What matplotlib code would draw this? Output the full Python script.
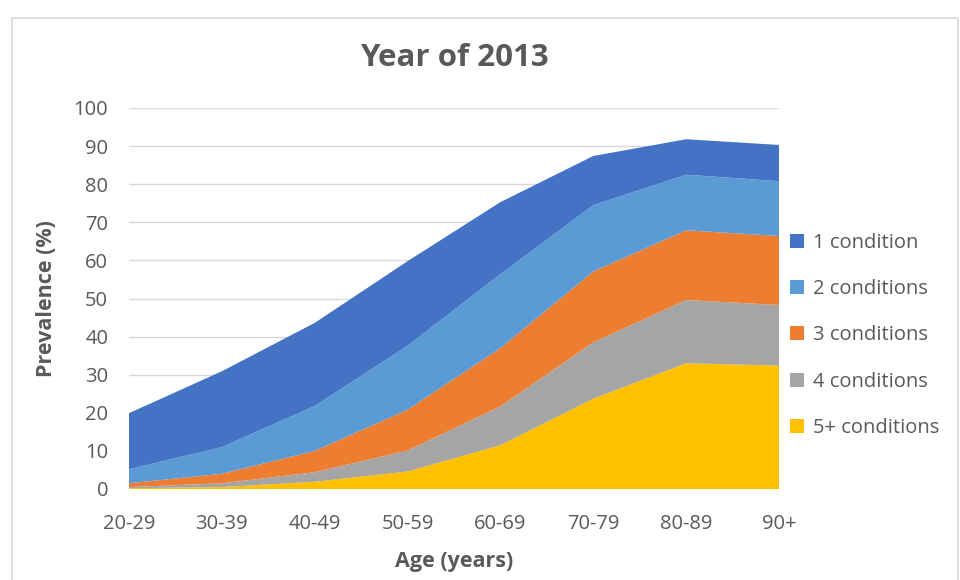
import matplotlib.pyplot as plt
from matplotlib.patches import Rectangle
import numpy as np

# age groups and layer heights (%), stacked bottom -> top
ages = ['20-29', '30-39', '40-49', '50-59', '60-69', '70-79', '80-89', '90+']
five_plus = [0.2, 0.5, 1.9, 4.6, 11.5, 23.7, 33.0, 32.4]
four = [0.3, 1.0, 2.5, 5.5, 10.2, 14.8, 16.6, 15.9]
three = [1.0, 2.5, 5.6, 10.7, 15.3, 18.6, 18.3, 18.1]
two = [3.7, 7.0, 11.8, 16.8, 19.4, 17.4, 14.6, 14.4]
one = [14.7, 19.9, 21.8, 22.2, 18.9, 12.9, 9.3, 9.5]

series = [five_plus, four, three, two, one]
names = ['5+ conditions', '4 conditions', '3 conditions', '2 conditions', '1 condition']
colors = ['#FFC000', '#A5A5A5', '#ED7D31', '#5B9BD5', '#4472C4']

plt.rcParams['font.family'] = ['Open Sans', 'DejaVu Sans']
txt = '#595959'

fig = plt.figure(figsize=(9.6, 5.8), dpi=100)
ax = fig.add_axes([129/960, 1-489/580, 650/960, 381/580])

x = np.arange(len(ages))
ax.stackplot(x, *series, colors=colors, labels=names, linewidth=0, zorder=2)

ax.set_xlim(0, len(ages) - 1)
ax.set_ylim(0, 100)
ax.set_yticks(range(0, 101, 10))
ax.set_xticks(x)
ax.set_xticklabels(ages)
ax.yaxis.grid(True, color='#d9d9d9', linewidth=1, zorder=0)
ax.set_axisbelow(True)
for s in ax.spines.values():
    s.set_visible(False)
ax.tick_params(length=0, labelsize=14.5, colors=txt)
ax.tick_params(axis='x', pad=18)
ax.tick_params(axis='y', pad=15)
ax.axhline(0, color='#d9d9d9', linewidth=1, zorder=1)

ax.set_title('Year of 2013', fontsize=22.5, fontweight='bold', color=txt, pad=30)
ax.set_xlabel('Age (years)', fontsize=15.5, fontweight='bold', color=txt, labelpad=12)
ax.set_ylabel('Prevalence (%)', fontsize=15.5, fontweight='bold', color=txt, labelpad=12)

h, l = ax.get_legend_handles_labels()
ax.legend(h[::-1], l[::-1], loc='center left', bbox_to_anchor=(0.995, 0.403),
          frameon=False, fontsize=14.5, labelcolor=txt, handlelength=0.7,
          handleheight=0.7, handletextpad=0.45, labelspacing=1.3,
          borderaxespad=0.3)

fig.patches.append(Rectangle((12/960, -0.05), 946/960, 1.05 - 18/580,
                             transform=fig.transFigure, fill=False,
                             edgecolor='#d9d9d9', linewidth=1.2))

fig.savefig('out.png', dpi=100)
